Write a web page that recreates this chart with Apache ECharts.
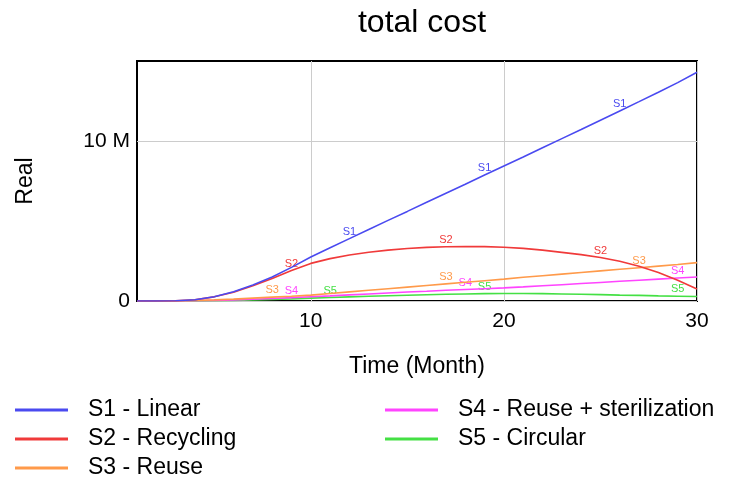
<!DOCTYPE html>
<html lang="en">
<head>
  <meta charset="UTF-8">
  <script src="https://cdn.jsdelivr.net/npm/echarts@6/dist/echarts.min.js"></script>
  <style>
    html, body { margin: 0; padding: 0; background: #fff; }
    #chart { width: 732px; height: 480px; }
  </style>
</head>
<body>
  <div id="chart"></div>
  <script>
    // months of the simulation
    const months = [1, 2, 3, 4, 5, 6, 7, 8, 9, 10, 11, 12, 13, 14, 15,
      16, 17, 18, 19, 20, 21, 22, 23, 24, 25, 26, 27, 28, 29, 30];

    // total cost, millions
    const s1 = [0, 0, 0.02, 0.08, 0.27, 0.58, 1.0, 1.5, 2.1, 2.75, 3.33, 3.9, 4.47, 5.04, 5.6,
      6.17, 6.74, 7.3, 7.87, 8.44, 9.0, 9.58, 10.15, 10.72, 11.3, 11.88, 12.46, 13.05, 13.65, 14.3];
    const s2 = [0, 0, 0.02, 0.08, 0.26, 0.55, 0.95, 1.4, 1.9, 2.35, 2.65, 2.88, 3.05, 3.18, 3.28,
      3.35, 3.39, 3.41, 3.4, 3.36, 3.29, 3.18, 3.04, 2.9, 2.72, 2.48, 2.17, 1.78, 1.3, 0.75];
    const s3 = [0, 0, 0.01, 0.03, 0.07, 0.12, 0.18, 0.24, 0.3, 0.37, 0.47, 0.57, 0.67, 0.77, 0.87,
      0.97, 1.07, 1.17, 1.27, 1.37, 1.48, 1.58, 1.68, 1.78, 1.88, 1.98, 2.08, 2.18, 2.28, 2.4];
    const s4 = [0, 0, 0.01, 0.02, 0.04, 0.07, 0.11, 0.16, 0.21, 0.27, 0.32, 0.38, 0.44, 0.5, 0.56,
      0.61, 0.67, 0.72, 0.77, 0.82, 0.88, 0.95, 1.02, 1.09, 1.16, 1.23, 1.3, 1.37, 1.44, 1.5];
    const s5 = [0, 0, 0.005, 0.01, 0.02, 0.04, 0.06, 0.09, 0.13, 0.18, 0.22, 0.26, 0.3, 0.33, 0.36,
      0.39, 0.42, 0.44, 0.46, 0.47, 0.47, 0.46, 0.44, 0.42, 0.4, 0.37, 0.35, 0.32, 0.3, 0.28];

    const names = ['S1 - Linear', 'S2 - Recycling', 'S3 - Reuse', 'S4 - Reuse + sterilization', 'S5 - Circular'];
    const tags = ['S1', 'S2', 'S3', 'S4', 'S5'];
    // months where the small run tags sit on each line
    const tagMonths = [[12, 19, 26], [9, 17, 25], [8, 17, 27], [9, 18, 29], [11, 19, 29]];
    const xTicks = [10, 20, 30];
    const yTicks = [0, 10];

    const values = [s1, s2, s3, s4, s5];
    const colors = ['#4a4af0', '#f03a3a', '#ff9a4a', '#ff44ff', '#44e044'];

    const font = '"Liberation Sans", Arial, sans-serif';

    const series = values.map((vals, i) => ({
      name: names[i],
      type: 'line',
      data: months.map((m, j) => [m, vals[j]]),
      showSymbol: false,
      lineStyle: { color: colors[i], width: 1.6 },
      itemStyle: { color: colors[i] },
      z: 10 - i,
      markPoint: {
        symbol: 'circle',
        symbolSize: 1,
        itemStyle: { color: 'rgba(0,0,0,0)' },
        label: {
          show: true,
          position: 'top',
          distance: 1,
          formatter: tags[i],
          color: colors[i],
          fontSize: 11,
          fontFamily: font
        },
        data: tagMonths[i].map(m => ({ coord: [m, vals[months.indexOf(m)]] }))
      }
    }));

    const legendBase = {
      orient: 'vertical',
      top: 392,
      height: 120,
      icon: 'rect',
      itemWidth: 53,
      itemHeight: 3,
      itemGap: 3,
      textStyle: { fontSize: 23, lineHeight: 26, color: '#000', padding: [0, 0, 0, 15], fontFamily: font }
    };

    const chart = echarts.init(document.getElementById('chart'));
    chart.setOption({
      animation: false,
      backgroundColor: '#fff',
      textStyle: { fontFamily: font },
      title: {
        text: 'total cost',
        left: 417,
        textAlign: 'center',
        top: 2,
        textStyle: { fontSize: 32, fontWeight: 'normal', color: '#000', fontFamily: font }
      },
      legend: [
        Object.assign({}, legendBase, { data: names.slice(0, 3), left: 10 }),
        Object.assign({}, legendBase, { data: names.slice(3), left: 380 })
      ],
      grid: {
        left: 137,
        right: 35,
        top: 61,
        bottom: 179,
        show: true,
        borderColor: '#000',
        borderWidth: 2,
        containLabel: false
      },
      xAxis: {
        type: 'value',
        min: 1,
        max: 30,
        name: 'Time (Month)',
        nameLocation: 'middle',
        nameGap: 54,
        nameTextStyle: { fontSize: 23, color: '#000' },
        axisLine: { show: false },
        axisTick: { show: false, customValues: xTicks },
        axisLabel: { customValues: xTicks, fontSize: 21, color: '#000', margin: 10 },
        splitLine: { show: true, lineStyle: { color: '#cccccc', width: 1 } }
      },
      yAxis: {
        type: 'value',
        min: 0,
        max: 15,
        name: 'Real',
        nameLocation: 'middle',
        nameGap: 100,
        nameRotate: 90,
        nameTextStyle: { fontSize: 23, color: '#000' },
        axisLine: { show: false },
        axisTick: { show: false, customValues: yTicks },
        axisLabel: {
          customValues: yTicks,
          fontSize: 21,
          color: '#000',
          margin: 7,
          formatter: v => v === 0 ? '0' : v + ' M'
        },
        splitLine: { show: true, lineStyle: { color: '#cccccc', width: 1 } }
      },
      series: series
    });
  </script>
</body>
</html>
